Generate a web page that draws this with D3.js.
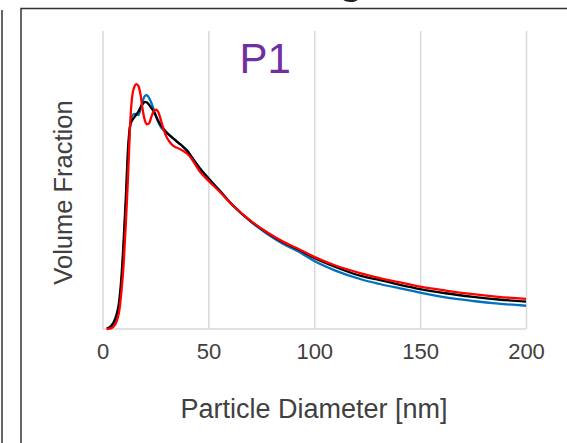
<!DOCTYPE html>
<html>
<head>
<meta charset="utf-8">
<script src="https://cdn.jsdelivr.net/npm/d3@7"></script>
<style>
  html, body { margin: 0; padding: 0; background: #fff; }
  svg { display: block; }
  text { font-family: "Liberation Sans", Arial, sans-serif; }
</style>
</head>
<body>
<svg id="chart" width="567" height="443"></svg>
<script>
// Particle size distribution, sample P1 (volume-weighted)
const diameters = [2, 4, 6, 8, 9, 10, 11, 12, 13, 14, 15, 16, 17, 18, 19, 20, 21, 22, 23, 24, 25, 26, 27, 28,
  30, 32, 34, 36, 38, 40, 42, 44, 46, 50, 55, 62, 70, 78, 85, 93, 100, 110, 122, 131, 140, 150, 162, 175, 187, 200];

const blueVol = [0.000, 0.005, 0.025, 0.085, 0.16, 0.27, 0.41, 0.56, 0.68, 0.715, 0.722, 0.72, 0.718, 0.74, 0.765, 0.782,
  0.785, 0.775, 0.76, 0.74, 0.72, 0.70, 0.685, 0.673,
  0.66, 0.648, 0.636, 0.624, 0.612, 0.598, 0.578, 0.558, 0.539, 0.506, 0.467, 0.412, 0.36, 0.318, 0.287, 0.258,
  0.228, 0.196, 0.167, 0.151, 0.137, 0.122, 0.106, 0.094, 0.085, 0.078];

const blackVol = [0.002, 0.010, 0.035, 0.100, 0.18, 0.30, 0.44, 0.60, 0.68, 0.70, 0.71, 0.72, 0.73, 0.745, 0.755, 0.762,
  0.76, 0.752, 0.742, 0.732, 0.718, 0.703, 0.69, 0.68,
  0.662, 0.648, 0.636, 0.624, 0.612, 0.598, 0.578, 0.558, 0.539, 0.506, 0.467, 0.412, 0.362, 0.322, 0.292, 0.265,
  0.238, 0.208, 0.178, 0.164, 0.149, 0.134, 0.12, 0.108, 0.099, 0.092];

const redVol = [0.000, 0.002, 0.015, 0.065, 0.13, 0.22, 0.35, 0.50, 0.68, 0.78, 0.812, 0.822, 0.815, 0.785, 0.735, 0.70,
  0.687, 0.69, 0.71, 0.728, 0.736, 0.733, 0.715, 0.69,
  0.648, 0.625, 0.612, 0.606, 0.598, 0.588, 0.572, 0.55, 0.528, 0.498, 0.463, 0.412, 0.363, 0.323, 0.294, 0.267,
  0.242, 0.213, 0.187, 0.171, 0.157, 0.142, 0.129, 0.117, 0.108, 0.101];

const xTicks = [0, 50, 100, 150, 200];
const xTickLabels = ["0", "50", "100", "150", "200"];

const seriesList = [
  { name: "blue", values: blueVol, color: "#0070C0" },
  { name: "black", values: blackVol, color: "#000000" },
  { name: "red", values: redVol, color: "#FF0000" }
];

const svg = d3.select("#chart");
const textColor = "#404040";

// Panel frames
svg.append("line").attr("x1", 2).attr("x2", 2).attr("y1", 10).attr("y2", 443)
  .attr("stroke", "#333").attr("stroke-width", 1.5);
svg.append("rect").attr("x", 21).attr("y", 8.5).attr("width", 600).attr("height", 500)
  .attr("fill", "none").attr("stroke", "#333").attr("stroke-width", 1.5);

// Tail of the figure heading above the panel
svg.append("text").attr("x", 351).attr("y", -6.5).attr("text-anchor", "middle")
  .attr("font-size", 40).attr("font-weight", "bold").attr("fill", "#222").text("g");

const x = d3.scaleLinear().domain([0, 200]).range([102.5, 526]);
const y = d3.scaleLinear().domain([0, 1]).range([329, 31]);

// Vertical gridlines
const grid = svg.append("g").attr("transform", `translate(0,${y(0)})`)
  .call(d3.axisBottom(x).tickValues(xTicks).tickSize(-(y(0) - y(1))).tickFormat(""));
grid.select(".domain").remove();
grid.selectAll(".tick line").attr("stroke", "#D9D9D9").attr("stroke-width", 1.5);

// Baseline
svg.append("line").attr("x1", x(0)).attr("x2", x(200)).attr("y1", y(0)).attr("y2", y(0))
  .attr("stroke", "#D9D9D9").attr("stroke-width", 1.5);

// Tick labels
const axis = svg.append("g").attr("transform", `translate(0,${y(0)})`)
  .call(d3.axisBottom(x).tickValues(xTicks).tickSize(0).tickPadding(14)
    .tickFormat((d, i) => xTickLabels[i]));
axis.select(".domain").remove();
axis.selectAll("text").attr("font-size", 22).attr("fill", textColor)
  .attr("font-family", "'Liberation Sans', Arial, sans-serif");

// Curves
const line = d3.line()
  .x((d, i) => x(diameters[i]))
  .y(d => y(d))
  .curve(d3.curveMonotoneX);

svg.append("g").selectAll("path").data(seriesList).join("path")
  .attr("d", s => line(s.values))
  .attr("fill", "none")
  .attr("stroke", s => s.color)
  .attr("stroke-width", 2.3)
  .attr("stroke-linejoin", "round");

// Axis titles
svg.append("text").attr("x", 314).attr("y", 418).attr("text-anchor", "middle")
  .attr("font-size", 27).attr("fill", textColor).text("Particle Diameter [nm]");

svg.append("text").attr("transform", "translate(72,192.5) rotate(-90)").attr("text-anchor", "middle")
  .attr("font-size", 25.5).attr("fill", textColor).text("Volume Fraction");

// Sample label
svg.append("text").attr("x", 239.5).attr("y", 73).attr("font-size", 42)
  .attr("fill", "#7030A0").text("P1");
</script>
</body>
</html>
